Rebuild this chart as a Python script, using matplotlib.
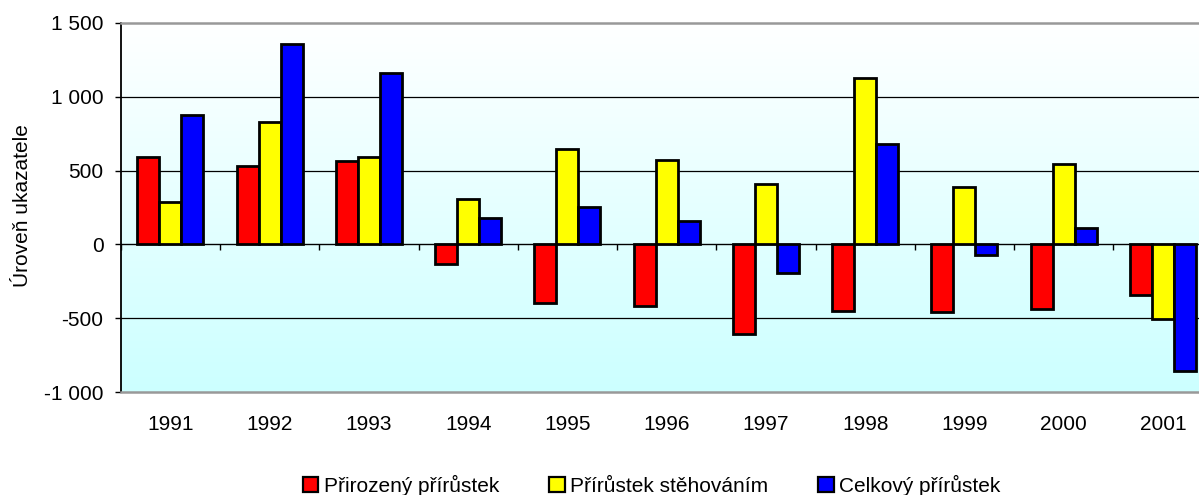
import numpy as np
import matplotlib
matplotlib.use('Agg')
import matplotlib.pyplot as plt
from matplotlib.colors import LinearSegmentedColormap
from matplotlib.patches import Patch

plt.rcParams['font.family'] = ['Liberation Sans', 'DejaVu Sans']
plt.rcParams['font.size'] = 15

# data
roky = ['1991', '1992', '1993', '1994', '1995', '1996', '1997', '1998', '1999', '2000', '2001']
prirozeny = [589, 528, 566, -129, -395, -417, -605, -449, -458, -440, -343]
stehovani = [284, 828, 593, 307, 645, 570, 406, 1123, 388, 545, -507]
celkovy = [873, 1355, 1161, 178, 250, 158, -196, 679, -70, 108, -855]
nazvy = ['Přirozený přírůstek', 'Přírůstek stěhováním', 'Celkový přírůstek']
barvy = ['#FF0000', '#FFFF00', '#0000FF']
y_ticks = [-1000, -500, 0, 500, 1000, 1500]
y_labels = ['-1 000', '-500', '0', '500', '1 000', '1 500']

fig = plt.figure(figsize=(11.99, 4.95), dpi=100)
ax = fig.add_axes([0.1007, 0.2075, 0.9106, 0.7467])

x = np.arange(len(roky))
w = 1 / 4.5

# pozadi s prechodem
cmap = LinearSegmentedColormap.from_list('bg', ['#CCFFFF', '#FFFFFF'])
ax.imshow(np.linspace(0, 1, 256).reshape(-1, 1), cmap=cmap, origin='lower',
          extent=(-0.5, len(roky) - 0.5, y_ticks[0], y_ticks[-1]), aspect='auto', zorder=0)

for yv in y_ticks[1:-1]:
    if yv != 0:
        ax.axhline(yv, color='black', lw=0.9, zorder=1)

for i, (vals, c) in enumerate(zip([prirozeny, stehovani, celkovy], barvy)):
    ax.bar(x + (i - 1) * w, vals, w, color=c, edgecolor='black', linewidth=2, zorder=3)

ax.set_xlim(-0.5, len(roky) - 0.5)
ax.set_ylim(y_ticks[0], y_ticks[-1])

ax.set_yticks(y_ticks)
ax.set_yticklabels(y_labels)
ax.tick_params(axis='y', direction='out', length=4.5, width=1, pad=8)
ax.set_xticks(x)
ax.set_xticklabels(roky)
ax.tick_params(axis='x', length=0, pad=16)

ax.spines['left'].set_color('black')
ax.spines['left'].set_linewidth(1.3)
for s in ['top', 'bottom']:
    ax.spines[s].set_color('#999999')
    ax.spines[s].set_linewidth(1.8)
ax.spines['right'].set_visible(False)

# osa v nule s carkami mezi kategoriemi
sec = ax.secondary_xaxis((0 - y_ticks[0]) / (y_ticks[-1] - y_ticks[0]))
sec.set_xticks(np.arange(len(roky) + 1) - 0.5)
sec.tick_params(direction='out', length=4.5, width=1, labelbottom=False, labeltop=False)
sec.spines['bottom'].set_color('black')
sec.spines['bottom'].set_linewidth(1)

fig.text(0.0185, 0.5838, 'Úroveň ukazatele', rotation=90, ha='center', va='center', fontsize=15)

handles = [Patch(facecolor=c, edgecolor='black', linewidth=1.6) for c in barvy]
fig.legend(handles, nazvy, ncol=3, loc='center', bbox_to_anchor=(0.5434, 0.0202),
           frameon=False, handlelength=0.75, handleheight=0.75, handletextpad=0.25,
           columnspacing=2.4, borderpad=0, fontsize=15)

fig.savefig('out.png', dpi=100)
